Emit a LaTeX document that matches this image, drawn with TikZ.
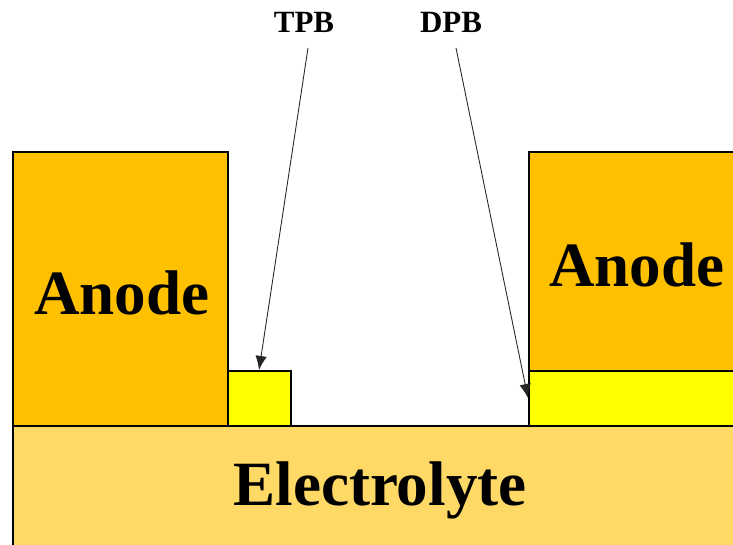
\documentclass[tikz,border=0pt]{standalone}
\usepackage{fontspec}
\setmainfont{Liberation Serif}
\usepackage{tikz}
\usetikzlibrary{arrows.meta}
\definecolor{anodo}{HTML}{FFC000}
\definecolor{bordo}{HTML}{FFFF00}
\definecolor{elettro}{HTML}{FFD966}

\begin{document}
\begin{tikzpicture}[x=0.02cm, y=-0.02cm,
        strato/.style={draw=black, line width=1.1pt},
        grande/.style={font=\fontsize{35.9}{40}\bfseries\selectfont},
        piccolo/.style={font=\fontsize{17.6}{20}\bfseries\selectfont},
        freccia/.style={-{Latex[length=8pt,width=6.5pt]}, line width=0.5pt, black!85}]
        \useasboundingbox (0,0) rectangle (733,544);
        \clip (0,0) rectangle (733,544);
        % elettrolita
        \draw[strato, fill=elettro] (13,426) rectangle (745,560);
        % anodi
        \draw[strato, fill=anodo] (13,152) rectangle (228,426);
        \draw[strato, fill=anodo] (529,152) rectangle (745,371);
        % zone di bordo
        \draw[strato, fill=bordo] (228,371) rectangle (291,426);
        \draw[strato, fill=bordo] (529,371) rectangle (745,426);
        % etichette
        \node[grande] (anodesx) at (122,293) {Anode};
        \node[grande] (anodedx) at (637,265) {Anode};
        \node[grande] (elettrolita) at (380,490) {Electrolyte};
        \node[piccolo] (tpb) at (304,22) {TPB};
        \node[piccolo] (dpb) at (451,22) {DPB};
        \coordinate (tpbpiede) at (308,48);
        \coordinate (dpbpiede) at (456,48);
        \coordinate (tpbpunta) at (259,370);
        \coordinate (dpbpunta) at (528,398);
        \draw[freccia] (tpbpiede) -- (tpbpunta);
        \draw[freccia] (dpbpiede) -- (dpbpunta);
    \end{tikzpicture}
\end{document}
